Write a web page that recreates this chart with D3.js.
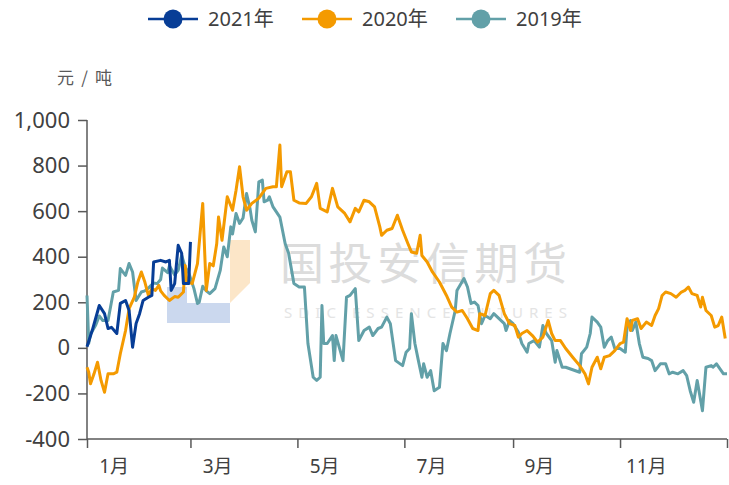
<!DOCTYPE html>
<html>
<head>
<meta charset="utf-8">
<script src="https://cdn.jsdelivr.net/npm/d3@7"></script>
<style>
  body { margin: 0; background: #fff; }
  svg { display: block; }
</style>
</head>
<body>
<svg></svg>
<script>
// day of year (0 = 1月1日) and spread value, 元/吨
const s2021 = [[0,5],[3,77],[7,186],[10,150],[12,85],[14,90],[17,63],[19,195],[22,208],[24,164],[26,3],
  [28,107],[30,150],[32,208],[35,222],[37,230],[38,377],[42,384],[45,377],[47,384],[48,252],[50,282],
  [52,450],[54,415],[55,282],[58,282],[59,465]];

const s2020 = [[0,-85],[1,-107],[2,-158],[4,-114],[6,-63],[8,-143],[10,-195],[12,-114],[15,-114],[17,-107],
  [19,-26],[22,76],[24,172],[27,223],[29,289],[31,333],[33,289],[35,230],[37,260],[39,252],[41,274],[42,250],
  [44,230],[47,208],[50,225],[52,222],[55,245],[56,362],[57,290],[60,282],[63,370],[66,634],[68,252],[70,370],
  [72,360],[74,458],[75,574],[77,472],[80,663],[83,604],[85,692],[87,795],[89,663],[91,604],[94,634],[98,657],
  [102,700],[106,707],[108,707],[110,890],[111,707],[114,773],[116,773],[118,648],[121,636],[125,634],[128,663],
  [131,722],[133,612],[137,597],[140,700],[143,619],[147,590],[150,553],[153,612],[155,597],[158,648],[161,641],
  [164,619],[167,531],[168,494],[171,516],[174,524],[177,582],[180,516],[183,458],[185,421],[188,415],[190,494],
  [191,405],[194,377],[197,333],[201,289],[205,230],[208,179],[211,157],[214,164],[217,128],[220,85],[223,76],
  [224,150],[227,142],[230,238],[232,252],[235,230],[238,150],[241,106],[244,98],[246,47],[248,63],[251,76],
  [254,54],[257,25],[260,47],[263,120],[265,63],[267,32],[270,32],[273,-3],[277,-41],[281,-78],[284,-114],
  [286,-158],[288,-85],[291,-41],[293,-92],[295,-41],[298,-34],[301,-12],[304,19],[306,25],[308,128],[310,76],
  [311,120],[314,128],[316,85],[319,113],[322,98],[324,142],[326,172],[328,230],[330,245],[333,238],[336,222],
  [339,245],[341,252],[343,267],[345,238],[348,230],[350,179],[351,222],[353,164],[356,142],[358,91],[360,98],
  [362,135],[364,41]];

const s2019 = [[0,230],[1,20],[2,60],[5,100],[7,140],[9,120],[12,120],[15,245],[18,252],[19,348],[22,318],
  [24,370],[26,333],[28,208],[31,245],[33,250],[35,262],[38,285],[40,282],[42,300],[43,350],[46,330],[47,360],
  [50,320],[52,340],[54,406],[56,355],[58,330],[61,260],[63,195],[64,200],[66,270],[68,250],[70,238],[73,260],
  [76,340],[78,443],[80,400],[82,531],[83,500],[85,590],[87,546],[89,570],[91,677],[93,610],[94,560],[96,509],
  [98,729],[100,736],[101,641],[103,648],[104,663],[106,620],[108,597],[110,574],[113,458],[115,415],[118,282],
  [121,267],[124,267],[126,19],[129,-129],[131,-143],[133,-129],[134,186],[135,19],[137,19],[140,54],[141,-56],
  [142,54],[146,-56],[148,223],[150,230],[153,260],[155,32],[158,76],[161,91],[163,54],[166,85],[168,91],
  [171,135],[173,106],[176,-56],[180,-78],[182,-19],[184,-3],[185,150],[187,19],[189,-56],[191,-129],[192,-70],
  [194,-129],[196,-100],[198,-188],[201,-173],[203,19],[205,-12],[207,63],[210,164],[211,252],[215,304],
  [217,267],[219,195],[221,201],[223,186],[225,106],[227,142],[230,128],[232,150],[235,128],[238,106],[239,76],
  [241,120],[243,106],[246,69],[248,19],[251,-19],[252,19],[255,32],[258,3],[260,98],[262,63],[265,32],
  [267,-63],[268,-12],[271,-85],[273,-85],[277,-96],[281,-107],[282,-26],[285,3],[287,63],[288,135],[291,113],
  [293,91],[295,3],[297,32],[299,47],[301,-3],[304,-3],[307,-19],[308,91],[310,120],[311,76],[313,113],[315,19],
  [317,-41],[320,-47],[322,-56],[324,-100],[327,-70],[330,-70],[332,-114],[334,-107],[337,-114],[340,-100],
  [342,-122],[344,-188],[346,-239],[348,-143],[351,-276],[353,-85],[356,-78],[357,-85],[359,-70],[361,-92],
  [363,-114],[365,-114]];

const seriesNames = ["2021年", "2020年", "2019年"];
const seriesColors = ["#073d96", "#f49a00", "#62a0a8"];
const monthStarts = [0, 31, 59, 90, 120, 151, 181, 212, 243, 273, 304, 334, 365];
const monthLabels = ["1月", "3月", "5月", "7月", "9月", "11月"];
const yTicks = [-400, -200, 0, 200, 400, 600, 800, 1000];

const width = 729, height = 485;
const margin = { top: 120, right: 2, bottom: 46, left: 87 };
const font = "'Noto Sans', 'Noto Sans CJK SC', sans-serif";

const svg = d3.select("svg")
    .attr("width", width)
    .attr("height", height)
    .attr("viewBox", [0, 0, width, height]);

const x = d3.scaleLinear().domain([0, 365]).range([margin.left, width - margin.right]);
const y = d3.scaleLinear().domain([-400, 1000]).range([height - margin.bottom, margin.top]);

// watermark behind the lines
const wm = svg.append("g");
wm.append("path")
    .attr("d", "M167,287H187V303H230V323H167Z")
    .attr("fill", "#cbd8ee");
wm.append("path")
    .attr("d", "M230,240H250V283L230,303Z")
    .attr("fill", "#fce6c8");
wm.append("text")
    .attr("x", 280).attr("y", 280)
    .attr("textLength", 287).attr("lengthAdjust", "spacing")
    .attr("font-family", "'Noto Sans CJK SC', sans-serif")
    .attr("font-size", 44)
    .attr("fill", "#dcdcdc")
    .text("国投安信期货");
wm.append("text")
    .attr("x", 284).attr("y", 318)
    .attr("textLength", 283).attr("lengthAdjust", "spacing")
    .attr("font-family", font)
    .attr("font-size", 15)
    .attr("fill", "#e4e4e4")
    .text("SDIC ESSENCE FUTURES");

// axes
const fmt = d3.format(",");
const yAxis = svg.append("g")
    .attr("transform", `translate(${margin.left},0)`)
    .call(d3.axisLeft(y).tickValues(yTicks).tickFormat(d => fmt(d).replace("−", "-")).tickSize(9).tickPadding(8));
const xAxis = svg.append("g")
    .attr("transform", `translate(0,${height - margin.bottom})`)
    .call(d3.axisBottom(x).tickValues(monthStarts.filter((d, i) => i % 2 === 0)).tickFormat("").tickSize(9));

[yAxis, xAxis].forEach(g => {
  g.select(".domain").attr("stroke", "#595959").attr("stroke-width", 1.5);
  g.selectAll(".tick line").attr("stroke", "#595959").attr("stroke-width", 1.5);
});
yAxis.select(".domain").attr("d", `M0,${y(-400)}V${y(1000)}`);
xAxis.select(".domain").attr("d", `M${x(0)},0H${x(365)}`);
yAxis.selectAll(".tick text")
    .attr("font-family", font).attr("font-size", 22).attr("fill", "#404040");

svg.append("g")
    .selectAll("text")
    .data(monthLabels)
    .join("text")
    .attr("x", (d, i) => x((monthStarts[2 * i] + monthStarts[2 * i + 1]) / 2))
    .attr("y", 473)
    .attr("text-anchor", "middle")
    .attr("font-family", font)
    .attr("font-size", 19)
    .attr("fill", "#404040")
    .text(d => d);

svg.append("text")
    .attr("x", 57).attr("y", 84)
    .attr("textLength", 55).attr("lengthAdjust", "spacing")
    .attr("font-family", "'Noto Sans CJK SC', sans-serif")
    .attr("font-size", 17)
    .attr("fill", "#595959")
    .text("元/吨");

// lines: 2019 under 2020 under 2021
const line = d3.line().x(d => x(d[0])).y(d => y(d[1]));
const data = [s2021, s2020, s2019];
svg.append("g")
    .selectAll("path")
    .data([2, 1, 0])
    .join("path")
    .attr("fill", "none")
    .attr("stroke", i => seriesColors[i])
    .attr("stroke-width", 3)
    .attr("stroke-linejoin", "round")
    .attr("d", i => line(data[i]));

// legend
const legend = svg.append("g")
    .selectAll("g")
    .data(seriesNames)
    .join("g")
    .attr("transform", (d, i) => `translate(${148 + i * 154},19)`);
legend.append("line")
    .attr("x1", 0).attr("x2", 50)
    .attr("stroke", (d, i) => seriesColors[i])
    .attr("stroke-width", 2.5);
legend.append("circle")
    .attr("cx", 25).attr("r", 9.5)
    .attr("fill", (d, i) => seriesColors[i]);
legend.append("text")
    .attr("x", 60).attr("y", 7)
    .attr("font-family", font)
    .attr("font-size", 20)
    .attr("fill", "#404040")
    .text(d => d);
</script>
</body>
</html>
